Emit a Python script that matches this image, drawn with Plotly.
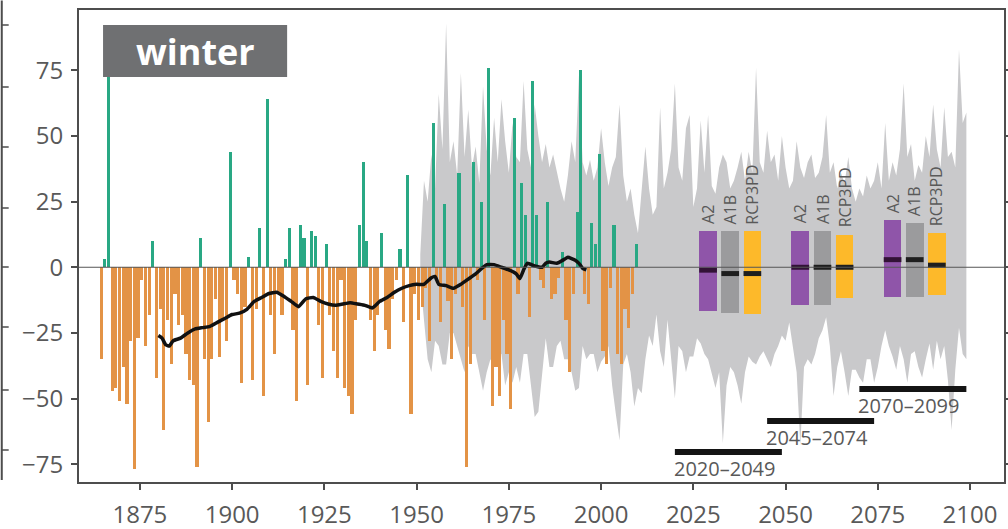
import plotly.graph_objects as go

# ---------------- data ----------------
hist_years = list(range(1864, 2010))
hist_values = [
    -35, 3, 88, -47, -46, -51, -38, -52, -28, -77,      # 1864-1873
    -27, -5, -30, -18, 10, -42, -16, -62, -20, -37,     # 1874-1883
    -10, -22, -18, -33, -43, -45, -76, 11, -35, -59,    # 1884-1893
    -35, -12, -34, -20, -28, 44, -5, -10, -44, -15,     # 1894-1903
    4, -43, -16, 15, -49, 64, -18, -33, -10, -18,       # 1904-1913
    3, 15, -24, -51, 16, 11, -45, 14, 12, -22,          # 1914-1923
    -42, 9, -18, -32, -42, -5, -46, -49, -56, -20,      # 1924-1933
    16, 40, 10, -20, -32, -18, 13, -24, -31, -12,       # 1934-1943
    -5, 7, -21, 35, -56, -10, -20, -15, -8, -28,        # 1944-1953
    55, -5, -21, 24, -13, -35, -10, 36, -15, -76,       # 1954-1963
    -37, 40, -5, 25, -20, 76, -53, -38, -49, -20,       # 1964-1973
    -33, -54, 57, -10, 32, 20, -19, 71, 20, -5,         # 1974-1983
    -8, 25, -12, -10, -4, 6, -20, -40, -10, 21,         # 1984-1993
    75, -10, -14, 17, 9, 43, -32, -37, -8, 16,          # 1994-2003
    -33, -37, -16, -23, -10, 9,                         # 2004-2009
]

mean_years = [1880, 1881, 1882, 1883, 1884, 1886, 1888, 1890, 1892, 1894, 1896, 1898,
              1900, 1902, 1904, 1906, 1908, 1910, 1912, 1914, 1916, 1918, 1920, 1922,
              1924, 1926, 1928, 1930, 1932, 1934, 1936, 1938, 1940, 1942, 1944, 1946,
              1948, 1950, 1952, 1954, 1955, 1956, 1958, 1960, 1962, 1964, 1966, 1968,
              1969, 1971, 1973, 1975, 1977, 1978, 1979, 1980, 1982, 1984, 1985, 1986,
              1988, 1990, 1991, 1993, 1994, 1995, 1996]
mean_values = [-26, -27, -29.5, -30, -28, -27, -25, -23.5, -23, -22.5, -21, -19.5,
               -18, -17.5, -16, -13, -11.5, -10, -9.5, -11, -13, -15, -12, -11.5,
               -13, -14, -14.5, -14, -13.5, -14, -14.5, -15.5, -13, -11.5, -9.5, -8,
               -7, -6.5, -6.5, -4, -3.5, -6.5, -7, -8, -6.5, -4.5, -2.5, 0,
               1, 1, 0, -1, -2.5, -4.3, -1, 1.5, 0.5, 0, 1.5, 2,
               1.5, 3, 3.8, 2.7, 1.5, -0.4, -1]

env_years = list(range(1951, 2100))
env_upper = [
    5, 33, 25, 43, 30, 66, 45, 93, 40, 48,             # 1951-1960
    35, 74, 42, 60, 38, 46, 32, 69, 45, 35,            # 1961-1970
    57, 40, 64, 48, 36, 55, 42, 40, 71, 45,            # 1971-1980
    38, 62, 50, 40, 47, 38, 43, 36, 30, 25,            # 1981-1990
    35, 48, 40, 73, 40, 35, 41, 33, 38, 53,            # 1991-2000
    40, 31, 38, 42, 62, 35, 25, 30, 20, 13,            # 2001-2010
    30, 46, 30, 20, 23, 61, 30, 36, 45, 70,            # 2011-2020
    38, 33, 53, 58, 23, 30, 56, 36, 58, 31,            # 2021-2030
    28, 38, 43, 40, 30, 33, 38, 44, 33, 44,            # 2031-2040
    36, 76, 40, 36, 52, 40, 43, 33, 50, 38,            # 2041-2050
    30, 33, 48, 38, 34, 40, 43, 34, 36, 42,            # 2051-2060
    58, 36, 40, 30, 36, 32, 42, 30, 25, 30,            # 2061-2070
    27, 35, 30, 33, 40, 30, 55, 33, 40, 35,            # 2071-2080
    45, 70, 42, 47, 33, 39, 36, 50, 42, 62,            # 2081-2090
    45, 38, 61, 42, 44, 38, 83, 55, 59,                # 2091-2099
]
env_lower = [
    -5, -20, -35, -40, -28, -30, -37, -37, -25, -25,   # 1951-1960
    -30, -35, -40, -30, -33, -33, -40, -47, -40, -35,  # 1961-1970
    -38, -33, -33, -45, -40, -44, -38, -44, -33, -33,  # 1971-1980
    -45, -57, -55, -40, -27, -38, -38, -30, -28, -35,  # 1981-1990
    -35, -40, -47, -46, -30, -35, -33, -33, -40, -36,  # 1991-2000
    -34, -30, -45, -56, -66, -37, -33, -40, -53, -46,  # 2001-2010
    -48, -35, -26, -30, -18, -32, -38, -20, -34, -50,  # 2011-2020
    -30, -32, -40, -34, -34, -27, -29, -33, -35, -40,  # 2021-2030
    -46, -40, -67, -45, -38, -40, -45, -52, -40, -34,  # 2031-2040
    -36, -37, -34, -32, -35, -38, -33, -30, -26, -28,  # 2041-2050
    -21, -30, -40, -68, -38, -35, -37, -33, -27, -24,  # 2051-2060
    -19, -30, -49, -38, -32, -40, -49, -39, -39, -42,  # 2061-2070
    -44, -35, -35, -44, -38, -30, -24, -30, -34, -39,  # 2071-2080
    -30, -35, -44, -33, -32, -38, -42, -35, -29, -39,  # 2081-2090
    -28, -35, -30, -43, -62, -39, -23, -33, -35,       # 2091-2099
]

scenarios = ["A2", "A1B", "RCP3PD"]
scen_colors = ["#8f55a9", "#9b9b9d", "#fdb92a"]
median_colors = ["#321236", "#1e1e1e", "#1e1e1e"]
box_centers = [[2029, 2035, 2041], [2054, 2060, 2066], [2079, 2085, 2091]]
box_top = [[13.7, 13.7, 13.7], [14.0, 14.0, 12.4], [17.9, 16.7, 12.9]]
box_bottom = [[-16.7, -17.5, -17.8], [-14.5, -14.5, -11.6], [-11.3, -11.3, -10.7]]
box_median = [[-1.1, -2.4, -2.4], [0.0, 0.0, 0.0], [2.9, 2.9, 0.8]]

periods = ["2020–2049", "2045–2074", "2070–2099"]
period_start = [2020, 2045, 2070]
period_end = [2049, 2074, 2099]
period_y = [-70.4, -58.6, -46.4]

x_ticks = [1875, 1900, 1925, 1950, 1975, 2000, 2025, 2050, 2075, 2100]
y_ticks = [-75, -50, -25, 0, 25, 50, 75]
y_ticktext = ["−75", "−50", "−25", "0", "25", "50", "75"]

GREEN = "#29a884"
ORANGE = "#e39346"
ENV = "#c9c9cb"
TXT = "#595959"
AX = "#4d4d4d"
FONT = "Open Sans"
X_RANGE = [1858.5, 2109.2]
Y_RANGE = [-81.8, 98.0]

fig = go.Figure()

# gray projection envelope (base axes, drawn underneath)
fig.add_trace(go.Scatter(x=env_years, y=env_lower, mode="lines",
                         line=dict(width=0, color=ENV), hoverinfo="skip", showlegend=False))
fig.add_trace(go.Scatter(x=env_years, y=env_upper, mode="lines", fill="tonexty",
                         fillcolor=ENV, line=dict(width=0, color=ENV),
                         hoverinfo="skip", showlegend=False))

# historical bars (overlay axes, drawn above the envelope)
bar_colors = [GREEN if v > 0 else ORANGE for v in hist_values]
fig.add_trace(go.Bar(x=hist_years, y=hist_values, marker=dict(color=bar_colors, line=dict(width=0)),
                     width=0.86, offset=0.07, showlegend=False, xaxis="x2", yaxis="y2"))

# running mean
fig.add_trace(go.Scatter(x=mean_years, y=mean_values, mode="lines",
                         line=dict(color="#111111", width=3.5, shape="spline", smoothing=0.4),
                         showlegend=False, xaxis="x2", yaxis="y2"))

# scenario boxes
for g in range(3):
    for s in range(3):
        c = box_centers[g][s]
        fig.add_trace(go.Bar(x=[c], y=[box_top[g][s] - box_bottom[g][s]], base=[box_bottom[g][s]],
                             width=4.8, marker=dict(color=scen_colors[s], line=dict(width=0)),
                             showlegend=False, xaxis="x2", yaxis="y2"))
        fig.add_trace(go.Scatter(x=[c - 2.4, c + 2.4], y=[box_median[g][s]] * 2, mode="lines",
                                 line=dict(color=median_colors[s], width=5), showlegend=False,
                                 xaxis="x2", yaxis="y2"))
        fig.add_annotation(x=c, y=box_top[g][s], text=scenarios[s], textangle=-90,
                           showarrow=False, xanchor="center", yanchor="bottom", yshift=5,
                           font=dict(family=FONT, size=16, color=TXT))

# period bars
for i in range(3):
    fig.add_trace(go.Scatter(x=[period_start[i], period_end[i]], y=[period_y[i]] * 2, mode="lines",
                             line=dict(color="#141414", width=6), showlegend=False,
                             xaxis="x2", yaxis="y2"))
    fig.add_annotation(x=period_start[i], y=period_y[i], text=periods[i], showarrow=False,
                       xanchor="left", yanchor="top", yshift=-1, xshift=-3,
                       font=dict(family=FONT, size=20, color=TXT))

# zero line
fig.add_shape(type="line", xref="paper", x0=0, x1=1, yref="y", y0=0, y1=0,
              line=dict(color="#555555", width=1), layer="above")

# "winter" label box
fig.add_shape(type="rect", xref="paper", yref="paper", x0=0.026, x1=0.225, y0=0.858, y1=0.968,
              fillcolor="#6f7072", line=dict(width=0), layer="above")
fig.add_annotation(xref="paper", yref="paper", x=0.1255, y=0.913, text="<b>winter</b>",
                   showarrow=False, xanchor="center", yanchor="middle",
                   font=dict(family=FONT, size=36, color="white"))

# neighbouring panel's axis fragment on the far left
fig.add_shape(type="line", xref="paper", yref="paper", x0=-0.0835, x1=-0.0835, y0=0.004, y1=1.02,
              line=dict(color=AX, width=2))
for py in [25, 87, 147, 208, 267, 327, 390, 450]:
    yp = (482 - py) / 472
    fig.add_shape(type="line", xref="paper", yref="paper", x0=-0.0835, x1=-0.0760, y0=yp, y1=yp,
                  line=dict(color=AX, width=1.5))

fig.update_layout(
    width=1008, height=529,
    margin=dict(l=79, r=4, t=10, b=47, autoexpand=False),
    paper_bgcolor="white", plot_bgcolor="white",
    barmode="overlay", bargap=0,
    font=dict(family=FONT, color=TXT),
    showlegend=False,
    xaxis=dict(range=X_RANGE, tickvals=x_ticks, ticks="outside", ticklen=6,
               tickcolor=AX, tickwidth=1.5, showline=True, linecolor=AX, linewidth=2,
               mirror=True, showgrid=False, zeroline=False, ticklabelstandoff=4,
               automargin=False, tickfont=dict(family=FONT, size=24, color=TXT)),
    yaxis=dict(range=Y_RANGE, tickvals=y_ticks, ticktext=y_ticktext, ticks="outside",
               ticklen=6, tickcolor=AX, tickwidth=1.5, showline=True, linecolor=AX, linewidth=2,
               mirror="ticks", showgrid=False, zeroline=False, ticklabelstandoff=3,
               automargin=False, tickfont=dict(family=FONT, size=24, color=TXT)),
    xaxis2=dict(range=X_RANGE, overlaying="x", visible=False, showgrid=False, zeroline=False,
                automargin=False),
    yaxis2=dict(range=Y_RANGE, overlaying="y", visible=False, showgrid=False, zeroline=False,
                automargin=False),
)

fig.write_html("out.html")
